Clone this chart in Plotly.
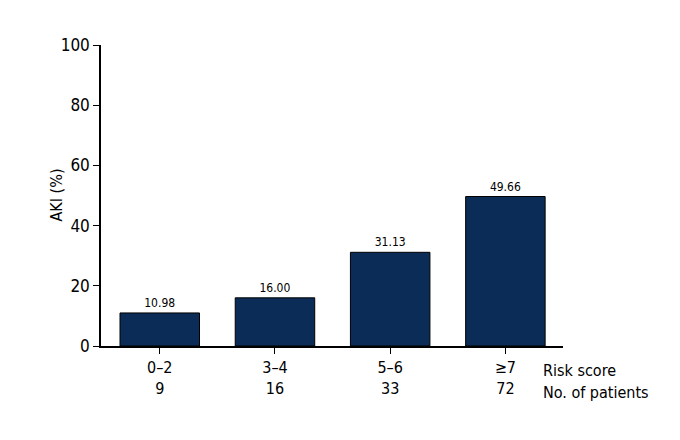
import plotly.graph_objects as go

# -------- data --------
risk_scores = ["0–2", "3–4", "5–6", "≥7"]
n_patients = [9, 16, 33, 72]
aki_pct = [10.98, 16.00, 31.13, 49.66]
y_ticks = [0, 20, 40, 60, 80, 100]

FONT = "DejaVu Sans Condensed, Liberation Sans Narrow, sans-serif"
BAR_COLOR = "#0b2c56"

tick_text = [f"{r}<br>{n}" for r, n in zip(risk_scores, n_patients)]

fig = go.Figure()
fig.add_trace(go.Bar(
    x=list(range(len(risk_scores))), y=aki_pct,
    width=0.69,
    marker=dict(color=BAR_COLOR, line=dict(color="black", width=1)),
    text=[f"{v:.2f}" for v in aki_pct],
    textposition="outside",
    textfont=dict(family=FONT, size=12, color="black"),
    cliponaxis=False,
))

# page body adds ~8px offset, so the figure is 8px smaller than the window
fig.update_layout(
    width=672, height=432,
    paper_bgcolor="white", plot_bgcolor="white",
    font=dict(family=FONT, size=15, color="black"),
    margin=dict(l=93, r=117, t=37, b=94),
    showlegend=False,
)

fig.update_xaxes(
    range=[-0.51, 3.5],
    tickmode="array", tickvals=list(range(len(risk_scores))), ticktext=tick_text,
    showline=True, linecolor="black", linewidth=1.5,
    ticks="outside", ticklen=6, tickwidth=1.2, tickcolor="black",
    showgrid=False, zeroline=False,
    tickfont=dict(family=FONT, size=16),
)
fig.update_yaxes(
    range=[0, 100],
    tickmode="array", tickvals=y_ticks,
    showline=True, linecolor="black", linewidth=1.5,
    ticks="outside", ticklen=6, tickwidth=1.2, tickcolor="black",
    showgrid=False, zeroline=False,
    tickfont=dict(family=FONT, size=17),
)

# y title placed close to the tick labels, as in the original
fig.add_annotation(xref="paper", yref="paper", x=0, y=0.5, xshift=-45,
                   text="AKI (%)", textangle=-90, showarrow=False,
                   xanchor="center", yanchor="middle",
                   font=dict(family=FONT, size=16))

# row labels to the right of the x axis
fig.add_annotation(xref="paper", yref="paper", x=1.0, y=0, xshift=-22, yshift=-13,
                   text="Risk score", showarrow=False, xanchor="left", yanchor="top",
                   font=dict(family=FONT, size=16))
fig.add_annotation(xref="paper", yref="paper", x=1.0, y=0, xshift=-22, yshift=-35,
                   text="No. of patients", showarrow=False, xanchor="left", yanchor="top",
                   font=dict(family=FONT, size=16))

fig.write_html("out.html")
